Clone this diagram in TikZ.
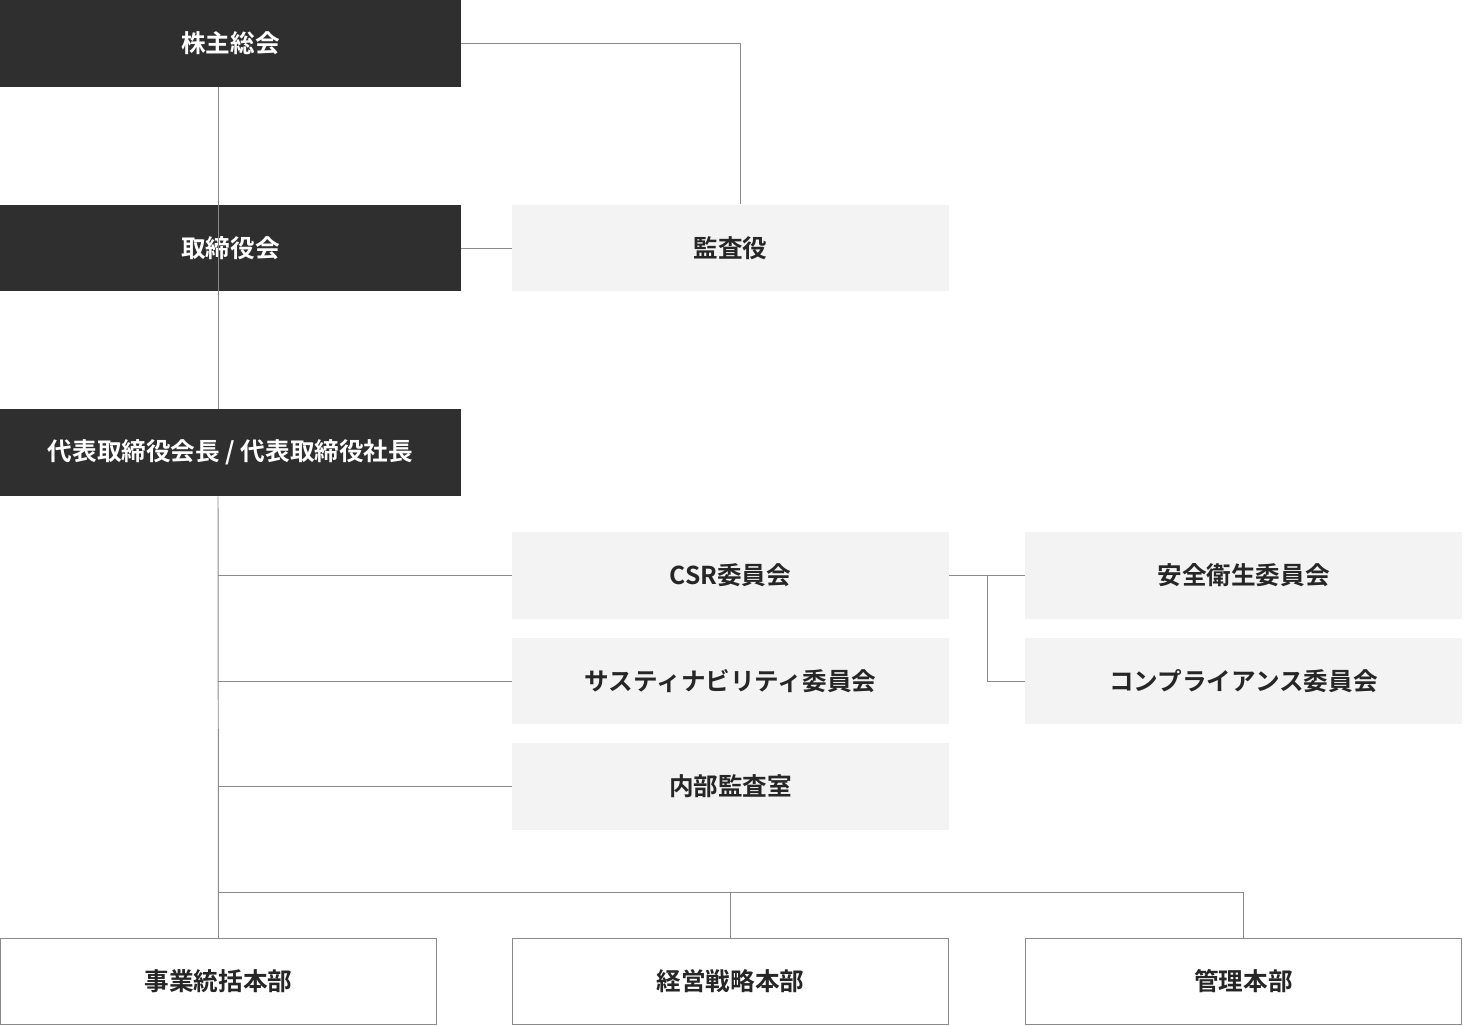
\documentclass[tikz,border=0pt]{standalone}
\usepackage{fontspec}
\newfontfamily\jp{Noto Sans CJK JP}[BoldFont={* Bold}]
\definecolor{darkbox}{HTML}{2F2F2F}
\definecolor{lightbox}{HTML}{F2F3F2}
\definecolor{wire}{HTML}{8A8A8A}
\begin{document}
\begin{tikzpicture}[x=0.02cm,y=-0.02cm,
  base/.style={inner sep=0pt, minimum height=1.74cm, font=\jp\bfseries\fontsize{14}{16}\selectfont},
  topnode/.style={base, fill=darkbox, text=white, minimum width=9.22cm},
  subnode/.style={base, fill=lightbox, text=black!85, minimum width=8.74cm},
  deptnode/.style={base, draw=wire, line width=0.6pt, fill=white, text=black!85, minimum width=8.74cm-0.6pt, minimum height=1.74cm-0.6pt},
  link/.style={draw=wire, line width=0.55pt},
]
\useasboundingbox (0,0) rectangle (1463,1026);

\node[topnode] (agm) at (230.5,43.5) {株主総会};
\node[topnode] (board) at (230.5,248) {取締役会};
\node[topnode] (ceo) at (230.5,452.5) {代表取締役会長 / 代表取締役社長};

\node[subnode] (audit) at (730.5,248) {監査役};
\node[subnode] (csr) at (730.5,575.5) {CSR委員会};
\node[subnode] (sus) at (730.5,681) {サスティナビリティ委員会};
\node[subnode] (inaudit) at (730.5,786.5) {内部監査室};
\node[subnode] (safety) at (1243.5,575.5) {安全衛生委員会};
\node[subnode] (comp) at (1243.5,681) {コンプライアンス委員会};

\node[deptnode] (biz) at (218.5,981.5) {事業統括本部};
\node[deptnode] (strat) at (730.5,981.5) {経営戦略本部};
\node[deptnode] (admin) at (1243.5,981.5) {管理本部};

\coordinate (spine) at (218,892);
\coordinate (branch) at (987,575.5);

\draw[link] (agm.east) -| (audit.north -| 740,0);
\draw[link] (board.east) -- (audit.west);
\draw[link] (agm.south -| 218,0) -- (board.south -| 218,0) (board.north -| 218,0) -- (agm.south -| 218,0);
\draw[link] (board.south -| 218,0) -- (ceo.north -| 218,0);
\draw[link] (ceo.south -| 218,0) -- (biz.north);
\draw[link] (csr.west -| 218,0) -- (csr.west);
\draw[link] (sus.west -| 218,0) -- (sus.west);
\draw[link] (inaudit.west -| 218,0) -- (inaudit.west);
\draw[link] (csr.east) -- (safety.west);
\draw[link] (branch) |- (comp.west);
\draw[link] (spine) -| (strat.north);
\draw[link] (spine) -| (admin.north);
\end{tikzpicture}
\end{document}
